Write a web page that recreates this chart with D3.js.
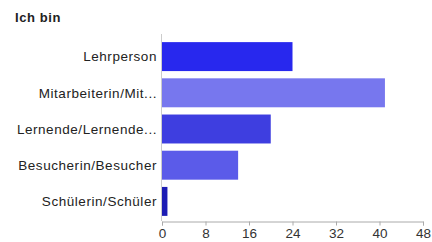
<!DOCTYPE html>
<html>
<head>
<meta charset="utf-8">
<script src="https://cdn.jsdelivr.net/npm/d3@7"></script>
<style>
  body { margin: 0; background: #fff; }
  text { font-family: "Liberation Sans", Arial, sans-serif; }
</style>
</head>
<body>
<div id="chart"></div>
<script>
var width = 432,
height = 242;

var categories = ["Lehrperson", "Mitarbeiterin/Mit...", "Lernende/Lernende...", "Besucherin/Besucher", "Schülerin/Schüler"];
var values = [24, 41, 20, 14, 1];
var barColors = ["#2828ee", "#7777ee", "#3e3ee0", "#5b5be9", "#1c1cb4"];
var ticks = [0, 8, 16, 24, 32, 40, 48];

var svg = d3.select("#chart").append("svg")
    .attr("width", width)
    .attr("height", height);

var x = d3.scaleLinear().domain([0, 48]).range([162, 423]);
var y = d3.scaleBand().domain(categories).range([38.5, 219.5])
    .paddingInner(0.2).paddingOuter(0.1);

// title
svg.append("text")
    .attr("x", 15).attr("y", 22)
    .attr("font-size", "13px")
    .attr("font-weight", "bold")
    .attr("letter-spacing", "0.6px")
    .attr("fill", "#222")
    .text("Ich bin");

// left axis line
svg.append("line")
    .attr("x1", 161.5).attr("x2", 161.5)
    .attr("y1", 34).attr("y2", 221)
    .attr("stroke", "#ccc");

// bars
svg.append("g").selectAll("rect")
    .data(values)
    .enter().append("rect")
    .attr("x", x(0))
    .attr("y", function(d, i) { return y(categories[i]); })
    .attr("width", function(d) { return x(d) - x(0); })
    .attr("height", y.bandwidth())
    .attr("fill", function(d, i) { return barColors[i]; });

// category labels
svg.append("g").selectAll("text")
    .data(categories)
    .enter().append("text")
    .attr("x", 157)
    .attr("y", function(d) { return y(d) + y.bandwidth() / 2; })
    .attr("dy", "0.35em")
    .attr("text-anchor", "end")
    .attr("font-size", "13.5px")
    .attr("letter-spacing", "0.55px")
    .attr("fill", "#222")
    .text(function(d) { return d; });

// bottom axis
var xAxis = svg.append("g")
    .attr("transform", "translate(0,221.5)")
    .call(d3.axisBottom(x).tickValues(ticks).tickSize(4).tickPadding(3));
xAxis.select(".domain").attr("stroke", "#aaa");
xAxis.selectAll(".tick line").attr("stroke", "#aaa");
xAxis.selectAll(".tick text")
    .attr("font-size", "13.5px")
    .attr("font-family", "Liberation Sans, Arial, sans-serif")
    .attr("fill", "#333");
</script>
</body>
</html>
